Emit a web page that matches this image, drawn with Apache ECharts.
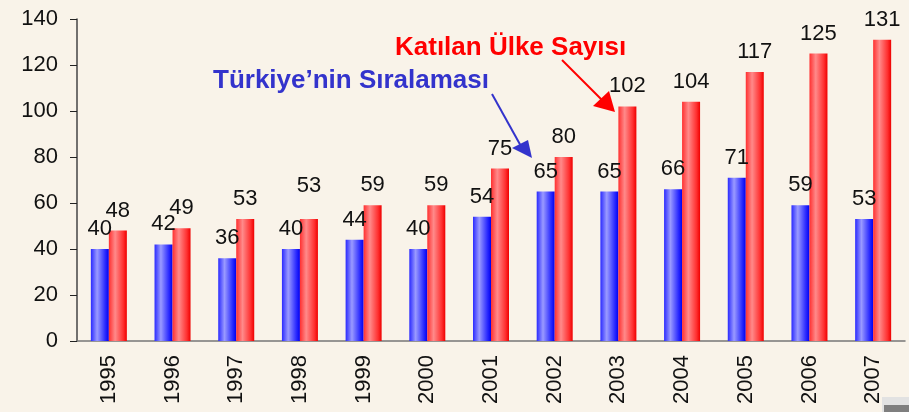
<!DOCTYPE html>
<html>
<head>
<meta charset="utf-8">
<script src="https://cdn.jsdelivr.net/npm/echarts@6/dist/echarts.min.js"></script>
<style>
  html, body { margin: 0; padding: 0; background: #f9f3e9; }
  #chart { width: 909px; height: 412px; }
</style>
</head>
<body>
<div id="chart"></div>
<script>
// veriler
var years = ["1995","1996","1997","1998","1999","2000","2001","2002","2003","2004","2005","2006","2007"];
var turkiyeSira = [40, 42, 36, 40, 44, 40, 54, 65, 65, 66, 71, 59, 53];
var katilanUlke = [48, 49, 53, 53, 59, 59, 75, 80, 102, 104, 117, 125, 131];
var yTicks = { min: 0, max: 140, interval: 20 };

let myChart = echarts.init(document.getElementById("chart"));

function grad(c1, c2, c3) {
  return new echarts.graphic.LinearGradient(0, 0, 1, 0, [
    { offset: 0, color: c1 },
    { offset: 0.35, color: c2 },
    { offset: 0.8, color: c1 },
    { offset: 1, color: c3 }
  ]);
}

let font = "'Liberation Sans', Arial, sans-serif";

let option = {
  backgroundColor: "#f9f3e9",
  animation: false,
  grid: { left: 77, right: 4, top: 19, bottom: 71 },
  xAxis: {
    type: "category",
    data: years,
    axisLine: { lineStyle: { color: "#777", width: 1.5 } },
    axisTick: { length: 8, lineStyle: { color: "#333" } },
    axisLabel: { rotate: 90, margin: 14, fontSize: 22, color: "#111", fontFamily: font }
  },
  yAxis: {
    type: "value",
    min: yTicks.min,
    max: yTicks.max,
    interval: yTicks.interval,
    splitLine: { show: false },
    axisLine: { show: true, lineStyle: { color: "#444", width: 1.5 } },
    axisTick: { show: true, length: 7, lineStyle: { color: "#222" } },
    axisLabel: { fontSize: 22, color: "#111", margin: 19, fontFamily: font }
  },
  series: [
    {
      name: "Türkiye'nin Sıralaması",
      type: "bar",
      barWidth: 18,
      barGap: "0%",
      data: turkiyeSira,
      itemStyle: { color: grad("#2a2aff", "#9a9aff", "#0000f0") },
      label: { show: true, position: "top", distance: 9, fontSize: 22, color: "#111", fontFamily: font }
    },
    {
      name: "Katılan Ülke Sayısı",
      type: "bar",
      barWidth: 18,
      data: katilanUlke.map(function (v, i) {
        // 1998 etiketi biraz daha yukarıda
        return i === 3 ? { value: v, label: { distance: 22 } } : v;
      }),
      itemStyle: { color: grad("#ff3030", "#ff8a8a", "#ee0000") },
      label: { show: true, position: "top", distance: 9, fontSize: 22, color: "#111", fontFamily: font }
    }
  ],
  graphic: [
    {
      type: "text", left: 395, top: 35,
      style: { text: "Katılan Ülke Sayısı", fill: "#ff0000", font: "bold 26px " + font }
    },
    {
      type: "text", left: 213, top: 68,
      style: { text: "Türkiye’nin Sıralaması", fill: "#3333cc", font: "bold 26px " + font }
    },
    // mavi ok
    { type: "line", shape: { x1: 492, y1: 94, x2: 522, y2: 148 }, style: { stroke: "#3333cc", lineWidth: 2 } },
    { type: "polygon", shape: { points: [[532, 158], [512, 148], [528, 140]] }, style: { fill: "#3333cc" } },
    // kırmızı ok
    { type: "line", shape: { x1: 562, y1: 60, x2: 604, y2: 102 }, style: { stroke: "#ff0000", lineWidth: 2 } },
    { type: "polygon", shape: { points: [[615, 112], [593, 106], [609, 91]] }, style: { fill: "#ff0000" } },
    // sağ alt köşe kutu
    { type: "rect", shape: { x: 882, y: 397, width: 27, height: 15 }, style: { fill: "#e2e2e2" } },
    { type: "rect", shape: { x: 884, y: 405, width: 25, height: 7 }, style: { fill: "#7f7f7f" } }
  ]
};

myChart.setOption(option, true);
</script>
</body>
</html>
